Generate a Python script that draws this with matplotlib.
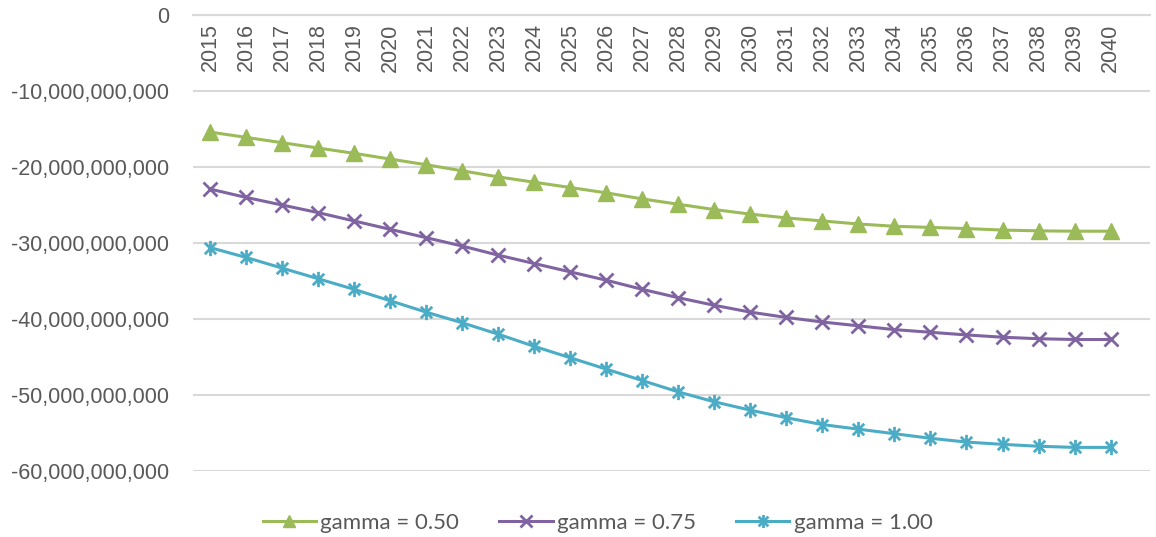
import numpy as np
import matplotlib
matplotlib.use('Agg')
import matplotlib.pyplot as plt
from matplotlib.path import Path
from matplotlib.ticker import FuncFormatter

# Years on the category axis
years = list(range(2015, 2041))

# Values in billions for each gamma setting
gamma_050 = [-15.4, -16.1, -16.8, -17.5, -18.2, -18.95, -19.7, -20.5, -21.3, -22.0,
             -22.7, -23.4, -24.2, -24.9, -25.6, -26.2, -26.7, -27.1, -27.5, -27.8,
             -27.95, -28.1, -28.3, -28.4, -28.45, -28.45]
gamma_075 = [-22.9, -24.0, -25.0, -26.0, -27.1, -28.2, -29.3, -30.4, -31.6, -32.7,
             -33.8, -34.9, -36.1, -37.2, -38.2, -39.1, -39.8, -40.4, -40.9, -41.4,
             -41.75, -42.1, -42.4, -42.6, -42.7, -42.7]
gamma_100 = [-30.6, -31.9, -33.3, -34.7, -36.1, -37.6, -39.1, -40.5, -42.0, -43.6,
             -45.1, -46.6, -48.1, -49.6, -50.9, -52.0, -53.0, -53.9, -54.5, -55.1,
             -55.7, -56.2, -56.5, -56.75, -56.9, -56.9]

labels = ['gamma = 0.50', 'gamma = 0.75', 'gamma = 1.00']
colors = ['#9BBB59', '#8064A2', '#4BACC6']
text_color = '#595959'
grid_color = '#D9D9D9'

# asterisk marker: vertical bar plus an X
asterisk = Path([(0, -1), (0, 1), (-0.75, -0.75), (0.75, 0.75), (-0.75, 0.75), (0.75, -0.75)],
                [Path.MOVETO, Path.LINETO, Path.MOVETO, Path.LINETO, Path.MOVETO, Path.LINETO])

fig = plt.figure(figsize=(11.56, 5.37), dpi=100)
ax = fig.add_axes([0.167, 0.123, 0.828, 0.849])

series = [gamma_050, gamma_075, gamma_100]
markers = ['^', 'x', asterisk]
msizes = [11, 10, 11]
for vals, lab, col, mk, ms in zip(series, labels, colors, markers, msizes):
    ax.plot(years, np.array(vals) * 1e9, color=col, lw=2.2, marker=mk, markersize=ms,
            markeredgewidth=2 if mk != '^' else 1, markerfacecolor=col, markeredgecolor=col,
            label=lab)

ax.set_ylim(-60e9, 0)
ax.set_yticks(np.arange(-60e9, 1, 10e9))
ax.yaxis.set_major_formatter(FuncFormatter(lambda v, p: f'{v:,.0f}'))
ax.set_xlim(2014.53, 2041.1)
ax.set_xticks(years)
ax.set_xticklabels([str(y) for y in years])

# category axis sits on the zero line
ax.spines['bottom'].set_position(('data', 0))
ax.spines['bottom'].set_color(grid_color)
ax.spines['bottom'].set_linewidth(1.5)
for s in ['top', 'left', 'right']:
    ax.spines[s].set_visible(False)

ax.yaxis.grid(True, color=grid_color, lw=1.5)
ax.set_axisbelow(True)
ax.tick_params(axis='both', length=0, colors=text_color, labelsize=15.5,
               labelfontfamily='Liberation Sans')
ax.tick_params(axis='x', pad=6, labelrotation=90)
ax.tick_params(axis='y', pad=17)
for t in ax.get_xticklabels():
    t.set_verticalalignment('top')

# legend handles keep smaller markers like the original chart
leg = fig.legend(loc='lower center', bbox_to_anchor=(0.517, -0.03), ncol=3, frameon=False,
                 prop={'family': 'Lato', 'size': 16}, handlelength=2.4, columnspacing=1.8,
                 handletextpad=0.2, labelcolor=text_color, markerscale=0.85)

fig.savefig('out.png', dpi=100)
